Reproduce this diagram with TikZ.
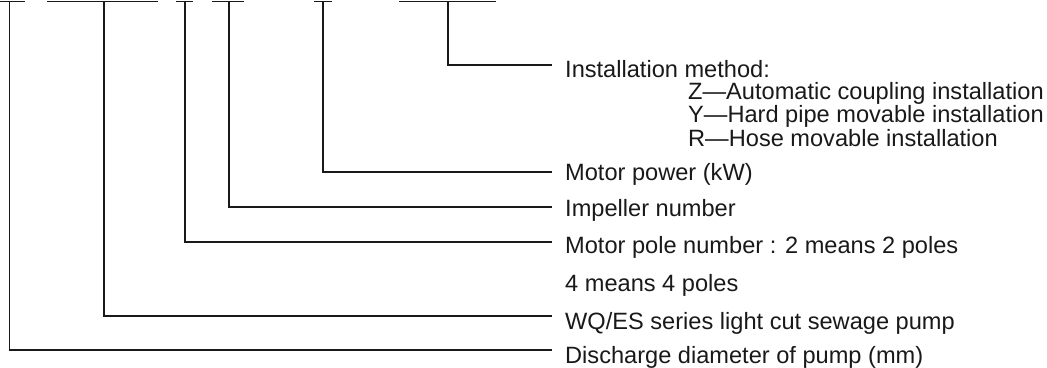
\documentclass[tikz,border=0pt]{standalone}
\usepackage{fontspec}
\setmainfont{Liberation Sans}
\begin{document}
\begin{tikzpicture}[x=1pt,y=-1pt,
  lead/.style={draw=black!90,line width=1.2pt},
  lbl/.style={anchor=base west,inner sep=0pt,font=\fontsize{23.6}{28}\selectfont,text=black!90}]
\useasboundingbox (0,0) rectangle (1047,367);
% top bars
\foreach \a/\b in {0/25,47/158,176/193,212/244,314/332,399/496}
  {\draw[lead] (\a,1.5) -- (\b,1.5);}
\coordinate (t1) at (9.5,1.5);
\coordinate (t2) at (104,1.5);
\coordinate (t3) at (185,1.5);
\coordinate (t4) at (229,1.5);
\coordinate (t5) at (323,1.5);
\coordinate (t6) at (448,1.5);
% labels
\node[lbl] (l6) at (565,77) {Installation method:};
\node[lbl] (z) at (688,99) {Z---Automatic coupling installation};
\node[lbl] (y) at (688,122) {Y---Hard pipe movable installation};
\node[lbl] (r) at (688,146) {R---Hose movable installation};
\node[lbl] (l5) at (565,180) {Motor power (kW)};
\node[lbl] (l4) at (565,216) {Impeller number};
\node[lbl] (l3) at (565,253) {Motor pole number : 2 means 2 poles};
\node[lbl] (l3b) at (565,291) {4 means 4 poles};
\node[lbl] (l2) at (565,329) {WQ/ES series light cut sewage pump};
\node[lbl] (l1) at (565,363) {Discharge diameter of pump (mm)};
% end points
\coordinate (e6) at (552,65);
\coordinate (e5) at (552,172);
\coordinate (e4) at (552,207);
\coordinate (e3) at (552,242);
\coordinate (e2) at (552,316);
\coordinate (e1) at (552,350);
\draw[lead] (t6) |- (e6);
\draw[lead] (t5) |- (e5);
\draw[lead] (t4) |- (e4);
\draw[lead] (t3) |- (e3);
\draw[lead] (t2) |- (e2);
\draw[lead] (t1) |- (e1);
\end{tikzpicture}
\end{document}
